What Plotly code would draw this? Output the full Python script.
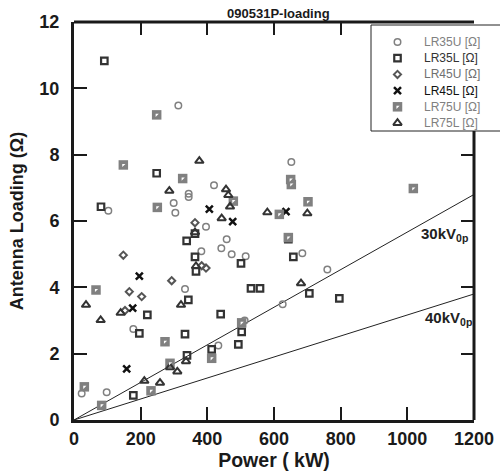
import plotly.graph_objects as go

# ---- data (Power kW, Antenna loading Ohm) ----
LR35U_P = [313, 420, 652, 344, 344, 103, 299, 304, 396, 458, 442, 382, 473, 515, 685, 760, 333, 178, 626, 512, 433, 98, 23]
LR35U_R = [9.48, 7.08, 7.78, 6.82, 6.72, 6.31, 6.54, 6.25, 5.83, 5.45, 5.18, 5.09, 5.0, 4.94, 5.03, 4.54, 3.95, 2.74, 3.49, 3.0, 2.25, 0.84, 0.8]

LR35L_P = [91, 248, 81, 338, 363, 363, 366, 343, 220, 196, 333, 339, 440, 413, 501, 643, 658, 531, 558, 706, 796, 503, 493, 178]
LR35L_R = [10.83, 7.44, 6.43, 5.40, 5.62, 4.92, 4.48, 3.62, 3.17, 2.61, 2.59, 1.95, 3.19, 2.13, 4.72, 5.45, 4.92, 3.97, 3.97, 3.82, 3.67, 2.66, 2.28, 0.74]

LR45U_P = [363, 148, 383, 396, 293, 166, 203, 153]
LR45U_R = [5.95, 4.97, 4.65, 4.58, 4.2, 3.87, 3.72, 3.30]

LR45L_P = [406, 476, 636, 196, 176, 158]
LR45L_R = [6.36, 5.98, 6.28, 4.34, 3.37, 1.54]

LR75U_P = [248, 148, 326, 250, 650, 652, 478, 616, 702, 1018, 643, 66, 273, 413, 288, 231, 31, 83, 503]
LR75U_R = [9.2, 7.69, 7.28, 6.41, 7.25, 7.1, 6.6, 6.2, 6.58, 6.98, 5.5, 3.92, 2.36, 1.86, 1.71, 0.88, 1.0, 0.44, 2.93]

LR75L_P = [376, 286, 456, 463, 468, 443, 363, 366, 580, 700, 681, 36, 140, 80, 321, 336, 288, 310, 211, 258]
LR75L_R = [7.81, 6.91, 6.95, 6.78, 6.43, 6.08, 5.66, 4.64, 6.26, 6.23, 4.12, 3.47, 3.23, 3.01, 3.47, 1.77, 1.59, 1.46, 1.18, 1.12]

SERIES_NAMES = ["LR35U [Ω]", "LR35L [Ω]", "LR45U [Ω]", "LR45L [Ω]", "LR75U [Ω]", "LR75L [Ω]"]

X_TICKS = [0, 200, 400, 600, 800, 1000, 1200]
Y_TICKS = [0, 2, 4, 6, 8, 10, 12]

LINE_P = [0, 1200]
LINE_30KV = [0, 6.8]
LINE_40KV = [0, 3.8]

FONT = "Liberation Sans, Arial, sans-serif"
W, H = 500, 473
L, R, T, B = 74, 26, 22, 53
PW, PH = W - L - R, H - T - B


def px_x(p):  # pixel -> paper x
    return (p - L) / PW


def px_y(p):  # pixel -> paper y
    return (H - B - p) / PH


fig = go.Figure()

# reference lines
for ys in (LINE_30KV, LINE_40KV):
    fig.add_trace(go.Scatter(x=LINE_P, y=ys, mode="lines",
                             line=dict(color="#222222", width=1), showlegend=False,
                             hoverinfo="skip"))

markers = [
    dict(symbol="circle-open", size=6.5, color="#808080", line=dict(width=1.5, color="#808080")),
    dict(symbol="square-open", size=6.5, color="#333333", line=dict(width=2.2, color="#333333")),
    dict(symbol="diamond-open", size=5.5, color="#555555", line=dict(width=2, color="#555555")),
    dict(symbol="x-thin-open", size=7, color="#111111", line=dict(width=2.5, color="#111111")),
    dict(symbol="square", size=9.5, color="#808080", line=dict(width=0)),
    dict(symbol="triangle-up-open", size=7.5, color="#333333", line=dict(width=2, color="#333333")),
]
text_colors = ["#808080", "#333333", "#707070", "#111111", "#808080", "#808080"]
data = [(LR35U_P, LR35U_R), (LR35L_P, LR35L_R), (LR45U_P, LR45U_R),
        (LR45L_P, LR45L_R), (LR75U_P, LR75U_R), (LR75L_P, LR75L_R)]

for name, (xs, ys), mk in zip(SERIES_NAMES, data, markers):
    fig.add_trace(go.Scatter(x=xs, y=ys, mode="markers", name=name, marker=mk, showlegend=False))

# small white notch inside gray squares (LR75U)
fig.add_trace(go.Scatter(x=LR75U_P, y=LR75U_R, mode="markers", showlegend=False,
                         marker=dict(symbol="triangle-nw", size=3.5, color="white", line=dict(width=0)),
                         hoverinfo="skip"))

# ---- manual legend on a pixel-coordinate overlay axis ----
leg_rows_y = [42 + 16.2 * i for i in range(6)]
leg_sym_x = 397.5
leg_txt_x = 422
for i, (name, mk, tc) in enumerate(zip(SERIES_NAMES, markers, text_colors)):
    fig.add_trace(go.Scatter(x=[leg_sym_x], y=[leg_rows_y[i]], mode="markers", marker=mk,
                             xaxis="x2", yaxis="y2", showlegend=False, hoverinfo="skip"))
    fig.add_annotation(x=leg_txt_x, y=leg_rows_y[i], xref="x2", yref="y2", text=name,
                       showarrow=False, xanchor="left", yanchor="middle",
                       font=dict(family=FONT, size=12, color=tc))
fig.add_trace(go.Scatter(x=[leg_sym_x], y=[leg_rows_y[4]], mode="markers", xaxis="x2", yaxis="y2",
                         marker=dict(symbol="triangle-nw", size=3.5, color="white", line=dict(width=0)),
                         showlegend=False, hoverinfo="skip"))
# legend frame (extends past the right edge, covering the frame there)
fig.add_shape(type="rect", xref="paper", yref="paper", x0=px_x(371), x1=px_x(520),
              y0=px_y(131), y1=px_y(25), line=dict(color="#222", width=1),
              fillcolor="rgba(0,0,0,0)", layer="above")

# frame parts not hidden by the legend: top line and lower part of right line
fig.add_shape(type="line", xref="paper", yref="paper", x0=0, x1=1, y0=1, y1=1,
              line=dict(color="#1a1a1a", width=3), layer="above")
fig.add_shape(type="line", xref="paper", yref="paper", x0=1, x1=1, y0=0, y1=px_y(131),
              line=dict(color="#1a1a1a", width=3), layer="above")
# dummy trace so the mirrored tick axes exist
fig.add_trace(go.Scatter(x=[None], y=[None], xaxis="x3", yaxis="y3", showlegend=False, hoverinfo="skip"))

fig.add_annotation(x=1035, y=5.58, text="<b>30kV<sub>0p</sub></b>", showarrow=False,
                   xanchor="left", yanchor="middle", font=dict(family=FONT, size=15, color="#222"))
fig.add_annotation(x=1047, y=3.05, text="<b>40kV<sub>0p</sub></b>", showarrow=False,
                   xanchor="left", yanchor="middle", font=dict(family=FONT, size=15, color="#222"))

fig.add_annotation(x=px_x(278), y=px_y(14), xref="paper", yref="paper", text="090531P-loading",
                   showarrow=False, xanchor="center", yanchor="middle",
                   font=dict(family=FONT, size=13, color="#1a1a1a", weight="bold"))

tick_common = dict(ticks="inside", ticklen=13, tickwidth=2, tickcolor="#1a1a1a",
                   showgrid=False, zeroline=False, automargin=False)
label_font = dict(family=FONT, size=18, color="#1a1a1a", weight="bold")
xtitle_font = dict(family=FONT, size=19.5, color="#1a1a1a", weight="bold")
ytitle_font = dict(family=FONT, size=18, color="#1a1a1a", weight="bold")

fig.update_layout(
    xaxis=dict(range=[0, 1200], tickvals=X_TICKS, showline=True, linecolor="#1a1a1a", linewidth=3,
               mirror=False, tickfont=label_font,
               title=dict(text="Power ( kW)", font=xtitle_font, standoff=5), **tick_common),
    yaxis=dict(range=[0, 12], tickvals=Y_TICKS, ticklabelstandoff=8, showline=True,
               linecolor="#1a1a1a", linewidth=3, mirror=False, tickfont=label_font,
               title=dict(text="Antenna Loading (Ω)", font=ytitle_font, standoff=12), **tick_common),
    xaxis2=dict(overlaying="x", range=[L, W - R], visible=False, automargin=False),
    yaxis2=dict(overlaying="y", range=[H - B, T], visible=False, automargin=False),
    xaxis3=dict(overlaying="x", side="top", range=[0, 1200], tickvals=X_TICKS[1:5],
                showticklabels=False, showline=False, **tick_common),
    yaxis3=dict(overlaying="y", side="right", range=[0, 12], tickvals=Y_TICKS[1:5],
                showticklabels=False, showline=False, **tick_common),
    width=W, height=H,
    margin=dict(l=L, r=R, t=T, b=B, autoexpand=False),
    plot_bgcolor="white", paper_bgcolor="white",
    showlegend=False,
)

fig.write_html("out.html", config={"displayModeBar": False},
               post_script="document.body.style.margin='0';")
